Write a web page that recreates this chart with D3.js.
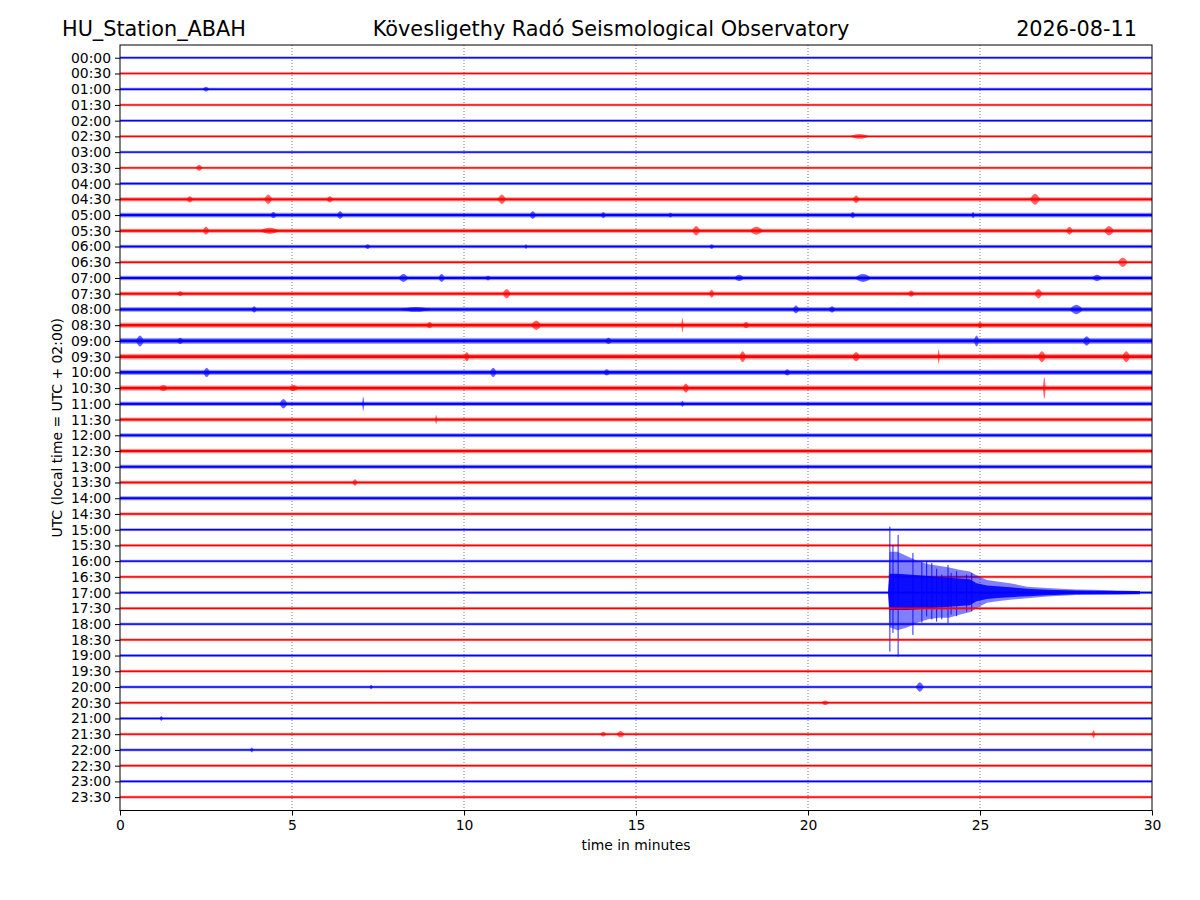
<!DOCTYPE html>
<html>
<head>
<meta charset="utf-8">
<script src="https://cdn.jsdelivr.net/npm/d3@7"></script>
<style>
  body { margin: 0; background: #fff; }
  svg { display: block; font-family: "DejaVu Sans", sans-serif; }
</style>
</head>
<body>
<svg id="chart" width="1200" height="900"></svg>
<script>
// one trace per half hour, alternating blue / red
var hourLabels = ["00:00","00:30","01:00","01:30","02:00","02:30","03:00","03:30",
	"04:00","04:30","05:00","05:30","06:00","06:30","07:00","07:30",
	"08:00","08:30","09:00","09:30","10:00","10:30","11:00","11:30",
	"12:00","12:30","13:00","13:30","14:00","14:30","15:00","15:30",
	"16:00","16:30","17:00","17:30","18:00","18:30","19:00","19:30",
	"20:00","20:30","21:00","21:30","22:00","22:30","23:00","23:30"];

// background noise half-amplitude of each trace (in trace spacings)
var noiseLevels = [0.083,0.083,0.095,0.083,0.083,0.083,0.083,0.083,
	0.095,0.13,0.15,0.13,0.11,0.095,0.14,0.13,
	0.15,0.165,0.19,0.18,0.165,0.165,0.14,0.13,
	0.13,0.14,0.13,0.11,0.13,0.10,0.089,0.089,
	0.089,0.089,0.095,0.089,0.089,0.089,0.089,0.089,
	0.089,0.089,0.089,0.089,0.089,0.089,0.089,0.089];

// small local events: [trace, minute, half-amplitude, half-width in minutes]
var bursts = [
	[2, 2.5, 0.15, 0.1], [5, 21.5, 0.15, 0.3], [7, 2.3, 0.2, 0.1],
	[9, 2.03, 0.2, 0.1], [9, 4.31, 0.3, 0.12], [9, 6.1, 0.2, 0.1], [9, 11.1, 0.3, 0.12],
	[9, 21.4, 0.25, 0.1], [9, 26.6, 0.35, 0.15],
	[10, 4.46, 0.2, 0.1], [10, 6.4, 0.25, 0.1], [10, 12.0, 0.25, 0.1], [10, 14.05, 0.2, 0.08],
	[10, 16.0, 0.15, 0.08], [10, 21.3, 0.2, 0.08], [10, 24.8, 0.2, 0.05],
	[11, 2.5, 0.25, 0.1], [11, 4.35, 0.2, 0.3], [11, 16.75, 0.3, 0.12], [11, 18.5, 0.25, 0.2],
	[11, 27.6, 0.25, 0.1], [11, 28.75, 0.3, 0.15],
	[12, 7.2, 0.15, 0.1], [12, 11.8, 0.15, 0.05], [12, 17.2, 0.15, 0.08],
	[13, 29.15, 0.3, 0.15],
	[14, 8.24, 0.25, 0.15], [14, 9.35, 0.25, 0.1], [14, 10.7, 0.15, 0.1],
	[14, 18.0, 0.2, 0.15], [14, 21.6, 0.25, 0.25], [14, 28.4, 0.2, 0.15],
	[15, 1.75, 0.15, 0.1], [15, 11.24, 0.3, 0.12], [15, 17.2, 0.25, 0.08],
	[15, 23.0, 0.2, 0.1], [15, 26.7, 0.3, 0.12],
	[16, 3.9, 0.2, 0.08], [16, 8.6, 0.15, 0.5], [16, 19.65, 0.25, 0.1],
	[16, 20.7, 0.2, 0.1], [16, 27.8, 0.3, 0.2],
	[17, 9.0, 0.2, 0.1], [17, 12.1, 0.3, 0.15], [17, 16.35, 0.45, 0.03],
	[17, 18.2, 0.2, 0.1], [17, 25.0, 0.2, 0.08],
	[18, 0.58, 0.35, 0.12], [18, 1.75, 0.2, 0.1], [18, 14.2, 0.2, 0.1],
	[18, 24.9, 0.35, 0.08], [18, 28.1, 0.3, 0.12],
	[19, 10.08, 0.3, 0.08], [19, 18.1, 0.35, 0.1], [19, 21.4, 0.3, 0.12],
	[19, 23.8, 0.45, 0.03], [19, 26.8, 0.35, 0.12], [19, 29.25, 0.35, 0.12],
	[20, 2.52, 0.3, 0.1], [20, 10.85, 0.3, 0.1], [20, 14.15, 0.2, 0.1], [20, 19.4, 0.2, 0.1],
	[21, 1.26, 0.2, 0.15], [21, 5.04, 0.2, 0.15], [21, 16.45, 0.3, 0.1], [21, 26.87, 0.7, 0.04],
	[22, 4.75, 0.3, 0.12], [22, 7.07, 0.45, 0.03], [22, 16.35, 0.2, 0.05],
	[23, 9.19, 0.3, 0.03], [27, 6.83, 0.2, 0.08],
	[40, 7.3, 0.15, 0.05], [40, 23.25, 0.3, 0.12], [41, 20.5, 0.15, 0.12],
	[42, 1.2, 0.15, 0.05], [43, 14.05, 0.15, 0.1], [43, 14.55, 0.2, 0.12],
	[43, 28.3, 0.25, 0.05], [44, 3.83, 0.15, 0.05]
];

// earthquake on the 17:00 trace (amplitudes in trace spacings)
var quakeTrace = 34;
var quakeTimes = [22.33, 22.37, 22.6, 22.9, 23.2, 23.5, 23.8, 24.1, 24.4, 24.7, 24.9, 25.2, 25.5, 25.87, 26.37, 26.95, 27.8, 28.3, 29.0, 29.65];
var quakeOuterUp = [0.1, 2.6, 2.6, 2.3, 2.0, 1.8, 1.7, 1.6, 1.45, 1.35, 1.1, 0.8, 0.7, 0.6, 0.38, 0.3, 0.2, 0.18, 0.14, 0.1];
var quakeOuterDown = [0.1, 2.2, 2.4, 2.2, 1.9, 1.7, 1.6, 1.6, 1.4, 1.25, 1.0, 0.65, 0.55, 0.46, 0.36, 0.25, 0.15, 0.14, 0.12, 0.1];
var quakeCoreUp = [0.1, 1.2, 1.2, 1.15, 1.1, 1.05, 1.0, 0.95, 0.9, 0.85, 0.6, 0.45, 0.4, 0.34, 0.25, 0.19, 0.13, 0.12, 0.1, 0.09];
var quakeCoreDown = [0.1, 1.1, 1.1, 1.1, 1.05, 1.0, 0.95, 0.9, 0.85, 0.8, 0.55, 0.4, 0.34, 0.29, 0.23, 0.17, 0.11, 0.1, 0.1, 0.09];
// single peaks: [minute, up, down]
var quakeSpikes = [
	[22.38, 4.19, 3.75], [22.47, 3.03, 2.56], [22.62, 3.67, 4.07], [23.05, 2.52, 2.69],
	[23.31, 1.97, 1.9], [23.45, 2.0, 1.52], [23.6, 1.89, 1.7], [23.74, 1.52, 1.84],
	[23.89, 1.15, 1.7], [24.07, 1.76, 1.93], [24.16, 1.25, 1.4], [24.32, 1.35, 1.5],
	[24.61, 1.15, 1.2], [24.76, 1.25, 1.2]
];

var xTicks = [0, 5, 10, 15, 20, 25, 30];
var gridMinutes = [5, 10, 15, 20, 25];
var traceColors = ["#0000ff", "#ff0000"];

var svg = d3.select("#chart");
var margin = {left: 120, right: 48, top: 45, bottom: 89.5};
var width = 1200 - margin.left - margin.right,
	height = 900 - margin.top - margin.bottom;

var x = d3.scaleLinear().domain([0, 30]).range([0, width]);
var y = d3.scaleLinear().domain([-0.81, 47.85]).range([0, height]);

var g = svg.append("g").attr("transform", "translate(" + margin.left + "," + margin.top + ")");

svg.append("defs").append("clipPath").attr("id", "plotclip")
	.append("rect").attr("width", width).attr("height", height);

// vertical dotted grid
g.selectAll(".grid").data(gridMinutes).enter().append("line")
	.attr("class", "grid")
	.attr("x1", function(d) { return x(d); })
	.attr("x2", function(d) { return x(d); })
	.attr("y1", 0).attr("y2", height)
	.attr("stroke", "#555").attr("stroke-width", 0.8)
	.attr("stroke-dasharray", "1,2");

var plot = g.append("g").attr("clip-path", "url(#plotclip)");

var envArea = d3.area()
	.curve(d3.curveLinear)
	.x(function(p) { return x(p[0]); })
	.y0(function(p) { return p[1]; })
	.y1(function(p) { return p[2]; });
var burstArea = d3.area()
	.curve(d3.curveNatural)
	.x(function(p) { return x(p[0]); })
	.y0(function(p) { return p[1]; })
	.y1(function(p) { return p[2]; });

hourLabels.forEach(function(label, i) {
	var col = traceColors[i % 2];
	var tg = plot.append("g").attr("class", "trace");
	var n = noiseLevels[i];

	// noise fringe and core
	tg.append("rect")
		.attr("x", x(0)).attr("width", x(30) - x(0))
		.attr("y", y(i - n)).attr("height", y(i + n) - y(i - n))
		.attr("fill", col).attr("opacity", 0.4);
	var core = Math.max(1.2, (y(i + n) - y(i - n)) * 0.5);
	tg.append("rect")
		.attr("x", x(0)).attr("width", x(30) - x(0))
		.attr("y", y(i) - core / 2).attr("height", core)
		.attr("fill", col);

	bursts.filter(function(b) { return b[0] === i; }).forEach(function(b) {
		var pts = [[b[1] - b[3], y(i), y(i)], [b[1], y(i - b[2]), y(i + b[2])], [b[1] + b[3], y(i), y(i)]];
		tg.append("path").attr("d", burstArea(pts))
			.attr("fill", col).attr("opacity", 0.6);
	});

	if (i === quakeTrace) {
		var outer = quakeTimes.map(function(t, k) { return [t, y(i - quakeOuterUp[k]), y(i + quakeOuterDown[k])]; });
		var inner = quakeTimes.map(function(t, k) { return [t, y(i - quakeCoreUp[k]), y(i + quakeCoreDown[k])]; });
		tg.append("path").attr("d", envArea(outer)).attr("fill", col).attr("opacity", 0.5);
		tg.append("path").attr("d", envArea(inner)).attr("fill", col).attr("opacity", 0.9);
		tg.selectAll(".spike").data(quakeSpikes).enter().append("line")
			.attr("class", "spike")
			.attr("x1", function(d) { return x(d[0]); })
			.attr("x2", function(d) { return x(d[0]); })
			.attr("y1", function(d) { return y(i - d[1]); })
			.attr("y2", function(d) { return y(i + d[2]); })
			.attr("stroke", col).attr("stroke-width", 1).attr("opacity", 0.85);
	}
});

// axes
var yAxis = d3.axisLeft(y)
	.tickValues(d3.range(hourLabels.length))
	.tickFormat(function(i) { return hourLabels[i]; })
	.tickSize(5).tickPadding(4);
var xAxis = d3.axisBottom(x).tickValues(xTicks).tickSize(5).tickPadding(5);

g.append("g").call(yAxis)
	.call(function(a) { a.select(".domain").remove(); })
	.selectAll("text").attr("font-size", "13.9px").attr("fill", "#000").attr("font-family", "DejaVu Sans");
g.append("g").attr("transform", "translate(0," + height + ")").call(xAxis)
	.call(function(a) { a.select(".domain").remove(); })
	.selectAll("text").attr("font-size", "13.9px").attr("fill", "#000").attr("font-family", "DejaVu Sans");

g.append("rect").attr("width", width).attr("height", height)
	.attr("fill", "none").attr("stroke", "#000").attr("stroke-width", 1);

// labels
svg.append("text").attr("x", 62).attr("y", 36)
	.attr("font-size", "20.8px").text("HU_Station_ABAH");
svg.append("text").attr("x", 611).attr("y", 36).attr("text-anchor", "middle")
	.attr("font-size", "20.8px").text("Kövesligethy Radó Seismological Observatory");
svg.append("text").attr("x", 1137).attr("y", 36).attr("text-anchor", "end")
	.attr("font-size", "20.8px").text("2026-08-11");

svg.append("text").attr("x", margin.left + width / 2).attr("y", 850)
	.attr("text-anchor", "middle").attr("font-size", "13.9px").text("time in minutes");
svg.append("text")
	.attr("transform", "translate(62," + (margin.top + height / 2) + ") rotate(-90)")
	.attr("text-anchor", "middle").attr("font-size", "13.9px")
	.text("UTC (local time = UTC + 02:00)");
</script>
</body>
</html>
